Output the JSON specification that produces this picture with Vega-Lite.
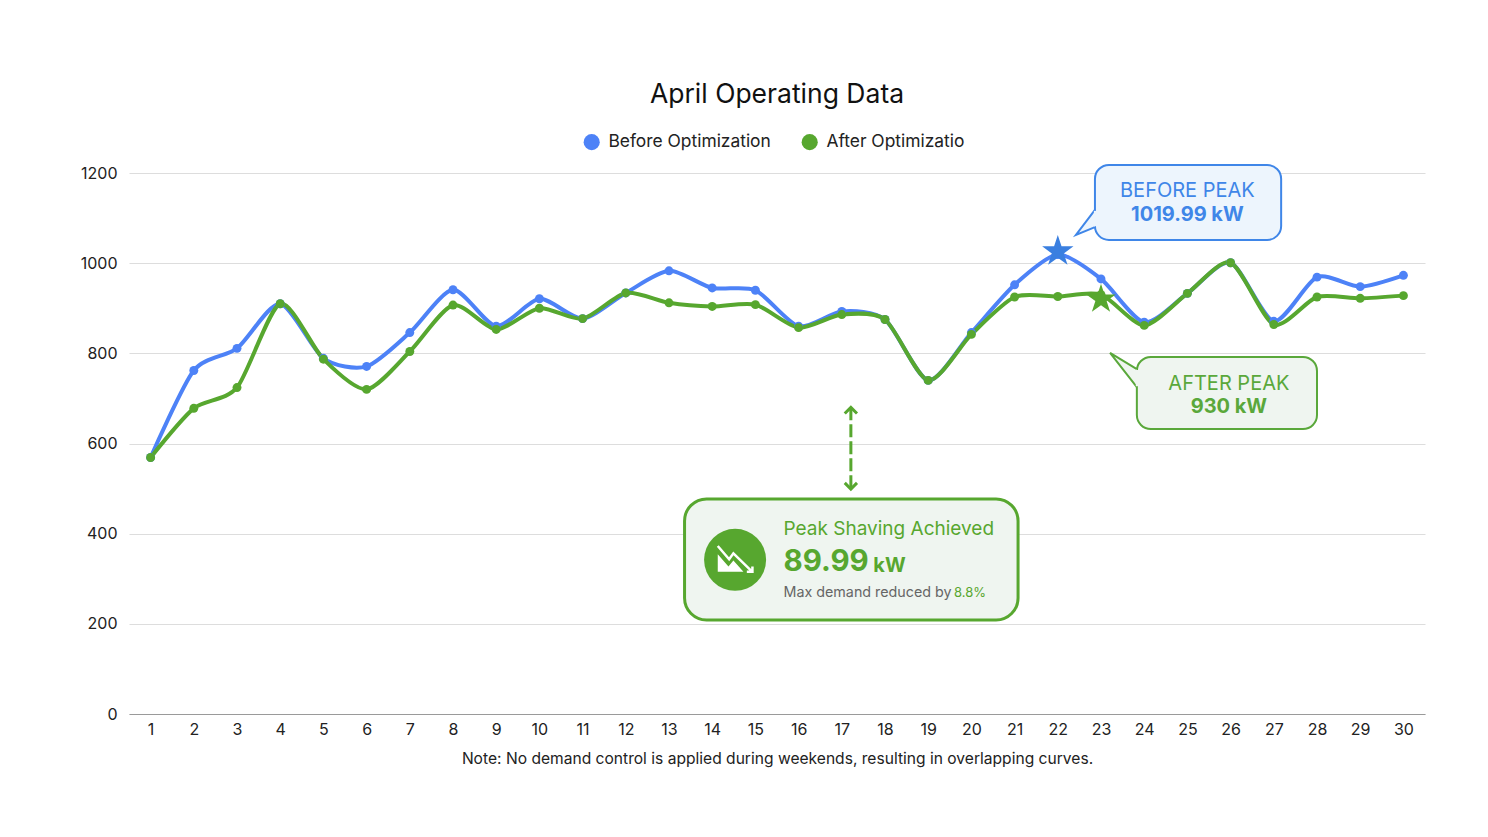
{
  "$schema": "https://vega.github.io/schema/vega-lite/v6.json",
  "width": 1296,
  "height": 541,
  "autosize": "none",
  "padding": {"left": 129, "top": 173, "right": 63, "bottom": 123},
  "background": "white",
  "config": {"font": "Inter", "view": {"stroke": null}},
  "title": {"text": "April Operating Data", "fontSize": 26.5, "fontWeight": 400, "color": "#111111", "anchor": "middle", "offset": 25},
  "datasets": {
    "series": [
      {"day": 1, "group": "Before Optimization", "kw": 569}, {"day": 2, "group": "Before Optimization", "kw": 762},
      {"day": 3, "group": "Before Optimization", "kw": 811}, {"day": 4, "group": "Before Optimization", "kw": 910},
      {"day": 5, "group": "Before Optimization", "kw": 789}, {"day": 6, "group": "Before Optimization", "kw": 771},
      {"day": 7, "group": "Before Optimization", "kw": 846}, {"day": 8, "group": "Before Optimization", "kw": 941},
      {"day": 9, "group": "Before Optimization", "kw": 860}, {"day": 10, "group": "Before Optimization", "kw": 921},
      {"day": 11, "group": "Before Optimization", "kw": 877}, {"day": 12, "group": "Before Optimization", "kw": 934},
      {"day": 13, "group": "Before Optimization", "kw": 983}, {"day": 14, "group": "Before Optimization", "kw": 945},
      {"day": 15, "group": "Before Optimization", "kw": 940}, {"day": 16, "group": "Before Optimization", "kw": 860},
      {"day": 17, "group": "Before Optimization", "kw": 893}, {"day": 18, "group": "Before Optimization", "kw": 875},
      {"day": 19, "group": "Before Optimization", "kw": 740}, {"day": 20, "group": "Before Optimization", "kw": 846},
      {"day": 21, "group": "Before Optimization", "kw": 952}, {"day": 22, "group": "Before Optimization", "kw": 1019},
      {"day": 23, "group": "Before Optimization", "kw": 965}, {"day": 24, "group": "Before Optimization", "kw": 869},
      {"day": 25, "group": "Before Optimization", "kw": 933}, {"day": 26, "group": "Before Optimization", "kw": 1001},
      {"day": 27, "group": "Before Optimization", "kw": 871}, {"day": 28, "group": "Before Optimization", "kw": 969},
      {"day": 29, "group": "Before Optimization", "kw": 948}, {"day": 30, "group": "Before Optimization", "kw": 973},
      {"day": 1, "group": "After Optimizatio", "kw": 569}, {"day": 2, "group": "After Optimizatio", "kw": 678},
      {"day": 3, "group": "After Optimizatio", "kw": 724}, {"day": 4, "group": "After Optimizatio", "kw": 910},
      {"day": 5, "group": "After Optimizatio", "kw": 787}, {"day": 6, "group": "After Optimizatio", "kw": 720},
      {"day": 7, "group": "After Optimizatio", "kw": 804}, {"day": 8, "group": "After Optimizatio", "kw": 907},
      {"day": 9, "group": "After Optimizatio", "kw": 853}, {"day": 10, "group": "After Optimizatio", "kw": 900},
      {"day": 11, "group": "After Optimizatio", "kw": 877}, {"day": 12, "group": "After Optimizatio", "kw": 934},
      {"day": 13, "group": "After Optimizatio", "kw": 912}, {"day": 14, "group": "After Optimizatio", "kw": 904},
      {"day": 15, "group": "After Optimizatio", "kw": 908}, {"day": 16, "group": "After Optimizatio", "kw": 857},
      {"day": 17, "group": "After Optimizatio", "kw": 886}, {"day": 18, "group": "After Optimizatio", "kw": 875},
      {"day": 19, "group": "After Optimizatio", "kw": 740}, {"day": 20, "group": "After Optimizatio", "kw": 842},
      {"day": 21, "group": "After Optimizatio", "kw": 925}, {"day": 22, "group": "After Optimizatio", "kw": 926},
      {"day": 23, "group": "After Optimizatio", "kw": 930}, {"day": 24, "group": "After Optimizatio", "kw": 862},
      {"day": 25, "group": "After Optimizatio", "kw": 933}, {"day": 26, "group": "After Optimizatio", "kw": 1001},
      {"day": 27, "group": "After Optimizatio", "kw": 864}, {"day": 28, "group": "After Optimizatio", "kw": 925},
      {"day": 29, "group": "After Optimizatio", "kw": 922}, {"day": 30, "group": "After Optimizatio", "kw": 928}
    ]
  },
  "data": {"name": "series"},
  "encoding": {
    "x": {
      "field": "day", "type": "quantitative",
      "scale": {"domain": [0.5, 30.5], "nice": false, "zero": false},
      "axis": {
        "values": [1,2,3,4,5,6,7,8,9,10,11,12,13,14,15,16,17,18,19,20,21,22,23,24,25,26,27,28,29,30],
        "format": "d", "grid": false, "ticks": false, "domainColor": "#9a9a9a", "labelFontSize": 16, "labelColor": "#222222", "labelPadding": 7,
        "labelFlush": false, "labelOverlap": false,
        "title": "Note: No demand control is applied during weekends, resulting in overlapping curves.",
        "titleFontSize": 15.6, "titleFontWeight": 400, "titleColor": "#222222", "titlePadding": 14
      }
    },
    "y": {
      "field": "kw", "type": "quantitative",
      "scale": {"domain": [0, 1200], "nice": false},
      "axis": {
        "values": [0, 200, 400, 600, 800, 1000, 1200], "format": "d", "title": null, "domain": false, "ticks": false,
        "gridColor": "#dddddd", "labelFontSize": 16, "labelColor": "#222222", "labelPadding": 12
      }
    }
  },
  "layer": [
    {
      "mark": {"type": "line", "interpolate": "cardinal", "tension": 0.25, "strokeWidth": 4},
      "encoding": {
        "color": {
          "field": "group", "type": "nominal", "sort": ["Before Optimization", "After Optimizatio"],
          "scale": {"domain": ["Before Optimization", "After Optimizatio"], "range": ["#4d82f7", "#57a72f"]},
          "legend": {
            "title": null, "orient": "none", "direction": "horizontal", "legendX": 454, "legendY": -40,
            "symbolType": "circle", "symbolSize": 260, "symbolStrokeWidth": 0, "labelFontSize": 17.4, "labelLimit": 300, "labelColor": "#222222", "columnPadding": 30, "labelOffset": 8
          }
        }
      }
    },
    {
      "mark": {"type": "point", "filled": true, "opacity": 1, "size": 80},
      "encoding": {
        "color": {"field": "group", "type": "nominal", "sort": ["Before Optimization", "After Optimizatio"], "legend": null}
      }
    },
    {
      "data": {"values": [{"day": 22, "kw": 1026}]},
      "mark": {"type": "point", "shape": "M0,-1L0.2245,-0.309L0.951,-0.309L0.363,0.118L0.588,0.809L0,0.382L-0.588,0.809L-0.363,0.118L-0.951,-0.309L-0.2245,-0.309Z", "filled": true, "opacity": 1, "size": 1089, "color": "#3a7fe0"}
    },
    {
      "data": {"values": [{"day": 23, "kw": 920}]},
      "mark": {"type": "point", "shape": "M0,-1L0.2245,-0.309L0.951,-0.309L0.363,0.118L0.588,0.809L0,0.382L-0.588,0.809L-0.363,0.118L-0.951,-0.309L-0.2245,-0.309Z", "filled": true, "opacity": 1, "size": 961, "color": "#57a72f"}
    },
    {
      "data": {"values": [{"from": 22.86, "to": 27.17, "low": 1051.5, "high": 1218}]},
      "mark": {"type": "rect", "fill": "#edf5fd", "stroke": "#3f86e8", "strokeWidth": 2, "cornerRadius": 14},
      "encoding": {"x": {"field": "from", "type": "quantitative"}, "x2": {"field": "to"}, "y": {"field": "low", "type": "quantitative"}, "y2": {"field": "high"}}
    },
    {
      "data": {"values": [{"day": 22.86, "kw": 1118, "step": 1}, {"day": 22.42, "kw": 1062.5, "step": 2}, {"day": 22.86, "kw": 1080, "step": 3}]},
      "mark": {"type": "line", "stroke": "#3f86e8", "fill": "#edf5fd", "strokeWidth": 2},
      "encoding": {"order": {"field": "step"}}
    },
    {
      "data": {"values": [{"day": 22.87, "kw": 1116}, {"day": 22.87, "kw": 1082}]},
      "mark": {"type": "line", "stroke": "#edf5fd", "strokeWidth": 3},
      "encoding": {}
    },
    {
      "data": {"values": [{"from": 23.83, "to": 28.0, "low": 632, "high": 792}]},
      "mark": {"type": "rect", "fill": "#eff5f0", "stroke": "#5aa83b", "strokeWidth": 2, "cornerRadius": 14},
      "encoding": {"x": {"field": "from", "type": "quantitative"}, "x2": {"field": "to"}, "y": {"field": "low", "type": "quantitative"}, "y2": {"field": "high"}}
    },
    {
      "data": {"values": [{"day": 23.83, "kw": 765, "step": 1}, {"day": 23.21, "kw": 801, "step": 2}, {"day": 23.83, "kw": 725, "step": 3}]},
      "mark": {"type": "line", "stroke": "#5aa83b", "fill": "#eff5f0", "strokeWidth": 2},
      "encoding": {"order": {"field": "step"}}
    },
    {
      "data": {"values": [{"day": 23.84, "kw": 763}, {"day": 23.84, "kw": 727}]},
      "mark": {"type": "line", "stroke": "#eff5f0", "strokeWidth": 3},
      "encoding": {}
    },
    {
      "data": {"values": [{"from": 13.36, "to": 21.08, "low": 208.5, "high": 477}]},
      "mark": {"type": "rect", "fill": "#eff5f0", "stroke": "#57a72f", "strokeWidth": 3, "cornerRadius": 22},
      "encoding": {"x": {"field": "from", "type": "quantitative"}, "x2": {"field": "to"}, "y": {"field": "low", "type": "quantitative"}, "y2": {"field": "high"}}
    },
    {
      "data": {"values": [{"day": 17.21, "kw": 501}, {"day": 17.21, "kw": 678}]},
      "mark": {"type": "line", "stroke": "#57a72f", "strokeWidth": 3, "strokeDash": [13, 4]},
      "encoding": {}
    },
    {
      "data": {"values": [{"day": 17.21, "kw": 680}]},
      "mark": {"type": "point", "shape": "M-1,1L0,0L1,1", "filled": false, "opacity": 1, "size": 150, "stroke": "#57a72f", "strokeWidth": 3}
    },
    {
      "data": {"values": [{"day": 17.21, "kw": 499}]},
      "mark": {"type": "point", "shape": "M-1,-1L0,0L1,-1", "filled": false, "opacity": 1, "size": 150, "stroke": "#57a72f", "strokeWidth": 3}
    },
    {
      "data": {"values": [{"day": 14.53, "kw": 342}]},
      "mark": {"type": "point", "shape": "circle", "filled": true, "opacity": 1, "size": 3844, "color": "#57a72f"}
    },
    {
      "data": {"values": [{"day": 14.53, "kw": 344}]},
      "mark": {"type": "point", "shape": "M-1.02,-0.28L-0.39,0.45L-0.1,0.1L0.49,0.75L-1.02,0.75Z", "filled": true, "opacity": 1, "size": 1156, "color": "white"}
    },
    {
      "data": {"values": [{"day": 14.53, "kw": 344}]},
      "mark": {"type": "point", "shape": "M-1.02,-0.76L-0.35,0.02L-0.1,-0.33L0.94,0.69M1.02,0.45L1.02,0.75L0.69,0.75", "filled": false, "opacity": 1, "size": 1156, "stroke": "white", "strokeWidth": 2.5}
    },
    {
      "data": {"values": [{"day": 25.0, "kw": 1160, "label": "BEFORE PEAK"}]},
      "mark": {"type": "text", "fontSize": 20, "color": "#3f86e8", "align": "center", "baseline": "middle"},
      "encoding": {"text": {"field": "label"}}
    },
    {
      "data": {"values": [{"day": 25.0, "kw": 1106, "label": "1019.99 kW"}]},
      "mark": {"type": "text", "fontSize": 20, "fontWeight": 700, "color": "#3f86e8", "align": "center", "baseline": "middle"},
      "encoding": {"text": {"field": "label"}}
    },
    {
      "data": {"values": [{"day": 25.96, "kw": 733, "label": "AFTER PEAK"}]},
      "mark": {"type": "text", "fontSize": 20, "color": "#5aa83b", "align": "center", "baseline": "middle"},
      "encoding": {"text": {"field": "label"}}
    },
    {
      "data": {"values": [{"day": 25.96, "kw": 680, "label": "930 kW"}]},
      "mark": {"type": "text", "fontSize": 20, "fontWeight": 700, "color": "#5aa83b", "align": "center", "baseline": "middle"},
      "encoding": {"text": {"field": "label"}}
    },
    {
      "data": {"values": [{"day": 15.65, "kw": 411, "label": "Peak Shaving Achieved"}]},
      "mark": {"type": "text", "fontSize": 19, "color": "#57a72f", "align": "left", "baseline": "middle"},
      "encoding": {"text": {"field": "label"}}
    },
    {
      "data": {"values": [{"day": 15.65, "kw": 338, "label": "89.99"}]},
      "mark": {"type": "text", "fontSize": 29.5, "fontWeight": 700, "color": "#57a72f", "align": "left", "baseline": "middle"},
      "encoding": {"text": {"field": "label"}}
    },
    {
      "data": {"values": [{"day": 17.73, "kw": 329, "label": "kW"}]},
      "mark": {"type": "text", "fontSize": 20, "fontWeight": 700, "color": "#57a72f", "align": "left", "baseline": "middle"},
      "encoding": {"text": {"field": "label"}}
    },
    {
      "data": {"values": [{"day": 15.65, "kw": 268, "label": "Max demand reduced by"}]},
      "mark": {"type": "text", "fontSize": 14.3, "color": "#666666", "align": "left", "baseline": "middle"},
      "encoding": {"text": {"field": "label"}}
    },
    {
      "data": {"values": [{"day": 19.6, "kw": 268, "label": "8.8%"}]},
      "mark": {"type": "text", "fontSize": 13, "color": "#57a72f", "align": "left", "baseline": "middle"},
      "encoding": {"text": {"field": "label"}}
    }
  ]
}
